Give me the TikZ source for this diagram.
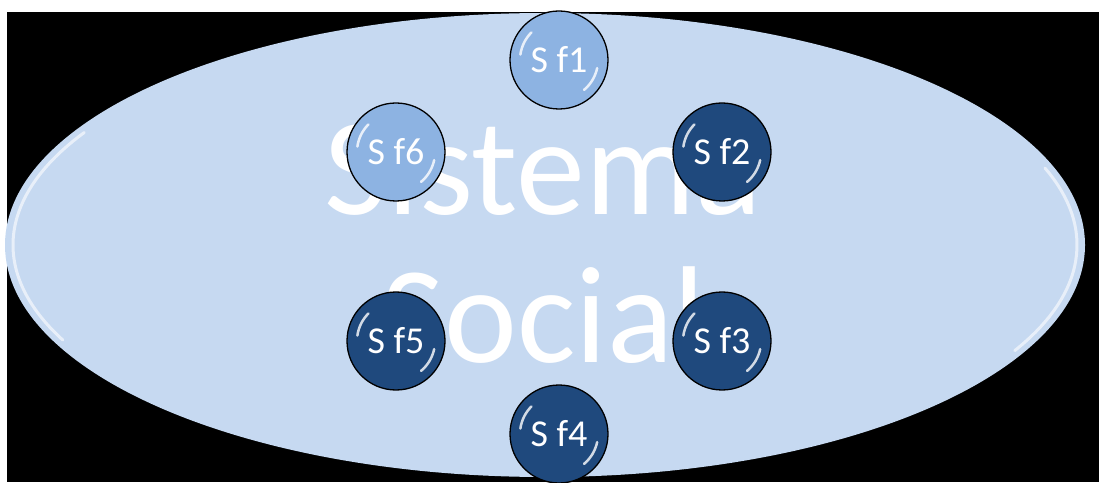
\documentclass[tikz,border=0pt]{standalone}
\usepackage{fontspec}
\setmainfont{Carlito}
\usetikzlibrary{shapes.geometric}
\definecolor{ovalfill}{HTML}{C6D9F1}
\definecolor{lightball}{HTML}{8DB3E2}
\definecolor{darkball}{HTML}{1F497D}
\tikzset{
  ball/.style={circle,draw=black,line width=1.3pt,minimum size=98pt,inner sep=0pt,
    text=white,font=\fontsize{38}{42}\selectfont,
    path picture={
      \draw[white,line width=2.5pt,opacity=.8,line cap=round]
        ([shift={(135:39pt)}]path picture bounding box.center) arc[start angle=135,end angle=172,radius=39pt];
      \draw[white,line width=2.5pt,opacity=.8,line cap=round]
        ([shift={(-12:39pt)}]path picture bounding box.center) arc[start angle=-12,end angle=-50,radius=39pt];
    }},
  lightfill/.style={fill=lightball},
  darkfill/.style={fill=darkball},
  rim/.style={white,line width=3pt,opacity=.6,line cap=round}
}
\begin{document}
\begin{tikzpicture}[x=1pt,y=1pt]
        \useasboundingbox (0,0) rectangle (1099,482);
        \fill[white] (0,0) rectangle (1099,482);
        \fill[black] (7,0) rectangle (1099,470);
        % the social system
        \node (oval) [ellipse,fill=ovalfill,minimum width=1080pt,minimum height=464pt,inner sep=0pt] at (545,237) {};
        \draw[rim] ([shift={(150:532pt and 225pt)}]oval.center) arc[start angle=150,end angle=205,x radius=532pt,y radius=225pt];
        \draw[rim] ([shift={(20:532pt and 225pt)}]oval.center) arc[start angle=20,end angle=-28,x radius=532pt,y radius=225pt];
        \begin{scope}[every node/.style={text=white,anchor=base,inner sep=0pt,font=\fontsize{138}{147}\selectfont}]
            \node (title1) at (543,267) {Sistema};
            \node (title2) at (543,120) {Social};
        \end{scope}
        % subsystems
        \begin{scope}[every node/.style={ball}]
            \node (1) [lightfill] at (559,422) {S f1};
            \node (2) [darkfill] at (722,330) {S f2};
            \node (3) [darkfill] at (722,141) {S f3};
            \node (4) [darkfill] at (559,48) {S f4};
            \node (5) [darkfill] at (396,141) {S f5};
            \node (6) [lightfill] at (396,330) {S f6};
        \end{scope}
    \end{tikzpicture}
\end{document}
